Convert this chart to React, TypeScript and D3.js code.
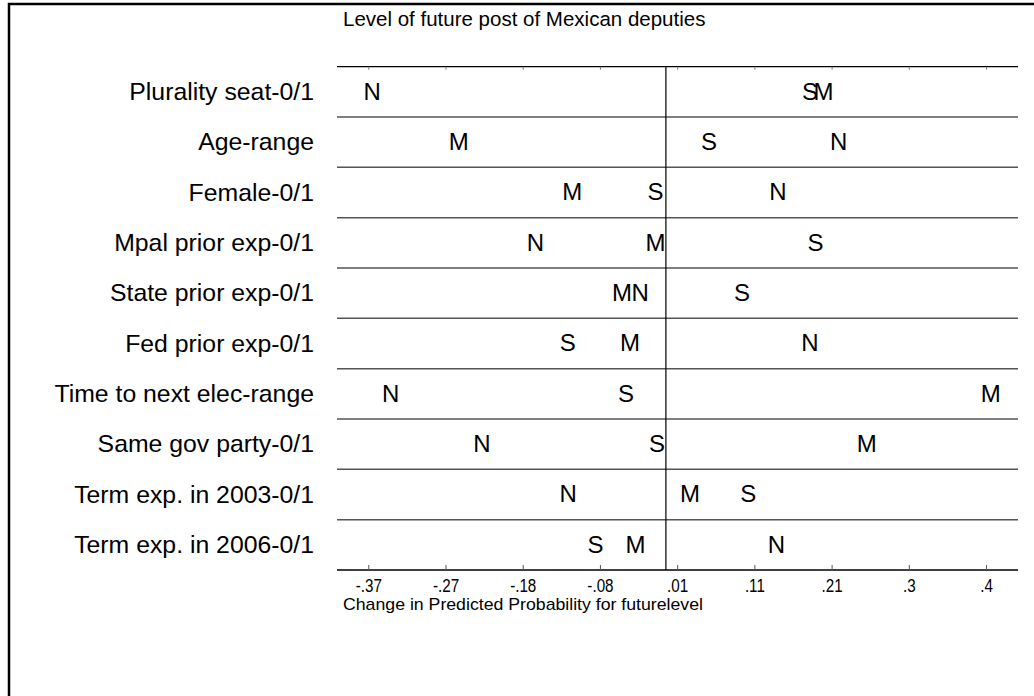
import React, { useRef, useEffect } from 'react';
import * as d3 from 'd3';

// Rows (top to bottom)
const categories = [
  'Plurality seat-0/1',
  'Age-range',
  'Female-0/1',
  'Mpal prior exp-0/1',
  'State prior exp-0/1',
  'Fed prior exp-0/1',
  'Time to next elec-range',
  'Same gov party-0/1',
  'Term exp. in 2003-0/1',
  'Term exp. in 2006-0/1',
];

// Change in predicted probability per outcome letter
const valuesN = [-0.367, 0.216, 0.14, -0.163, -0.032, 0.18, -0.344, -0.23, -0.122, 0.138];
const valuesS = [0.18, 0.054, -0.013, 0.187, 0.095, -0.1225, -0.05, -0.011, 0.103, -0.088];
const valuesM = [0.197, -0.259, -0.117, -0.013, -0.055, -0.045, 0.406, 0.251, 0.03, -0.038];

const tickValues = [-0.3713, -0.2748, -0.1783, -0.0818, 0.0147, 0.1112, 0.2077, 0.3042, 0.4007];
const tickLabels = ['-.37', '-.27', '-.18', '-.08', '.01', '.11', '.21', '.3', '.4'];

const FONT = '"Liberation Sans", Arial, Helvetica, sans-serif';

const App: React.FC = () => {
  const svgRef = useRef<SVGSVGElement>(null);

  useEffect(() => {
    if (!svgRef.current) return;
    const svg = d3.select(svgRef.current);
    svg.selectAll('*').remove();

    const width = 1034;
    const height = 696;
    const plot = { left: 337, right: 1018, top: 66.7, bottom: 570 };

    svg.attr('width', width).attr('height', height);

    // outer frame (runs off the right and bottom edges)
    svg
      .append('rect')
      .attr('x', 9)
      .attr('y', 4)
      .attr('width', 1100)
      .attr('height', 800)
      .attr('fill', 'none')
      .attr('stroke', '#000')
      .attr('stroke-width', 2.5);

    // title
    svg
      .append('text')
      .attr('x', 343)
      .attr('y', 26)
      .style('font-family', FONT)
      .style('font-size', '20.5px')
      .text('Level of future post of Mexican deputies');

    const x = d3.scaleLinear().domain([-0.411, 0.44]).range([plot.left, plot.right]);
    const y = d3.scaleBand().domain(categories).range([plot.top, plot.bottom]).padding(0);

    // row separators
    svg
      .append('g')
      .selectAll('line')
      .data(categories.slice(1))
      .enter()
      .append('line')
      .attr('x1', plot.left)
      .attr('x2', plot.right)
      .attr('y1', (d) => y(d) as number)
      .attr('y2', (d) => y(d) as number)
      .attr('stroke', '#555')
      .attr('stroke-width', 1.5);

    // top line with small ticks
    svg
      .append('line')
      .attr('x1', plot.left)
      .attr('x2', plot.right)
      .attr('y1', plot.top)
      .attr('y2', plot.top)
      .attr('stroke', '#000')
      .attr('stroke-width', 1.2);
    svg
      .append('g')
      .selectAll('line')
      .data(tickValues)
      .enter()
      .append('line')
      .attr('x1', (d) => x(d))
      .attr('x2', (d) => x(d))
      .attr('y1', plot.top)
      .attr('y2', plot.top + 3)
      .attr('stroke', '#777')
      .attr('stroke-width', 1);

    // bottom axis
    svg
      .append('line')
      .attr('x1', plot.left)
      .attr('x2', plot.right)
      .attr('y1', plot.bottom)
      .attr('y2', plot.bottom)
      .attr('stroke', '#000')
      .attr('stroke-width', 1.5);
    const bt = svg.append('g').selectAll('g').data(tickValues).enter().append('g');
    bt.append('line')
      .attr('x1', (d) => x(d))
      .attr('x2', (d) => x(d))
      .attr('y1', plot.bottom)
      .attr('y2', plot.bottom - 5)
      .attr('stroke', '#555')
      .attr('stroke-width', 1);
    bt.append('text')
      .attr('transform', (d) => `translate(${x(d)},${plot.bottom + 22}) scale(0.8,1)`)
      .attr('text-anchor', 'middle')
      .style('font-family', FONT)
      .style('font-size', '19px')
      .text((_, i) => tickLabels[i]);

    // axis title
    svg
      .append('text')
      .attr('x', 343)
      .attr('y', 610)
      .attr('textLength', 360)
      .attr('lengthAdjust', 'spacingAndGlyphs')
      .style('font-family', FONT)
      .style('font-size', '17px')
      .text('Change in Predicted Probability for futurelevel');

    // zero reference line
    svg
      .append('line')
      .attr('x1', x(0))
      .attr('x2', x(0))
      .attr('y1', plot.top)
      .attr('y2', plot.bottom)
      .attr('stroke', '#000')
      .attr('stroke-width', 1.2);

    // row labels
    svg
      .append('g')
      .selectAll('text')
      .data(categories)
      .enter()
      .append('text')
      .attr('x', 314)
      .attr('y', (d) => (y(d) as number) + y.bandwidth() / 2)
      .attr('dy', '0.33em')
      .attr('text-anchor', 'end')
      .style('font-family', FONT)
      .style('font-size', '24.8px')
      .text((d) => d);

    // letters
    const series: [string, number[]][] = [
      ['N', valuesN],
      ['S', valuesS],
      ['M', valuesM],
    ];
    series.forEach(([letter, vals]) => {
      svg
        .append('g')
        .selectAll('text')
        .data(vals)
        .enter()
        .append('text')
        .attr('x', (d) => x(d))
        .attr('y', (_, i) => (y(categories[i]) as number) + y.bandwidth() / 2)
        .attr('dy', '0.33em')
        .attr('text-anchor', 'middle')
        .style('font-family', FONT)
        .style('font-size', '24px')
        .text(letter);
    });
  }, []);

  return (
    <div style={{ position: 'absolute', left: 0, top: 0, width: 1034, height: 696, background: '#fff' }}>
      <svg ref={svgRef} style={{ display: 'block' }}></svg>
    </div>
  );
};

export default App;
